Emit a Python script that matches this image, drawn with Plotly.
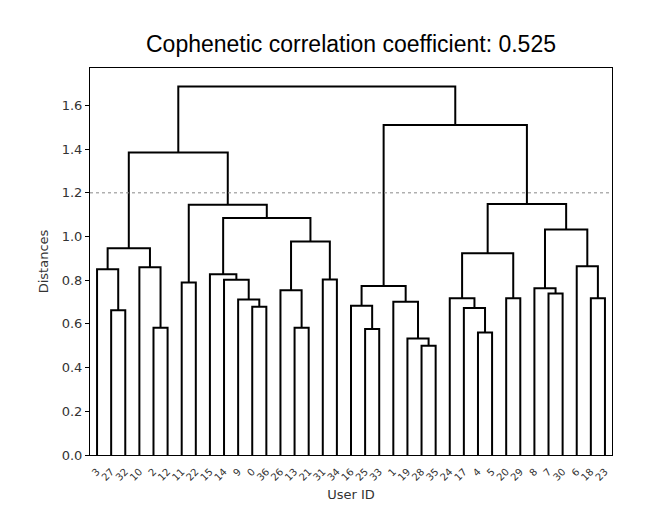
import plotly.graph_objects as go

# Leaf order (User IDs, left to right)
leaf_order = [3, 27, 32, 10, 2, 12, 11, 22, 15, 14, 9, 0, 36, 26, 13, 21, 31, 34,
              16, 25, 33, 1, 19, 28, 35, 24, 17, 4, 5, 20, 29, 8, 7, 30, 6, 18, 23]
n_leaves = len(leaf_order)

# Linkage-style merges: ids < 37 are users, ids >= 37 are merge index + 37
merge_left = [28, 19, 4, 25, 2, 13, 27, 17, 0, 16, 1, 9, 24, 20, 18, 7, 26, 8,
              46, 11, 14, 31, 15, 3, 10, 6, 49, 60, 53, 54, 59, 56, 63, 64, 55, 70]
merge_right = [35, 37, 5, 33, 12, 21, 32, 39, 36, 40, 38, 45, 44, 29, 23, 30, 42, 52,
               47, 22, 48, 34, 57, 43, 41, 51, 50, 61, 58, 62, 65, 67, 66, 68, 69, 71]
merge_height = [0.500, 0.533, 0.561, 0.577, 0.582, 0.582, 0.663, 0.673, 0.678, 0.683,
                0.702, 0.712, 0.718, 0.717, 0.718, 0.739, 0.754, 0.763, 0.773, 0.789,
                0.802, 0.803, 0.827, 0.850, 0.859, 0.864, 0.923, 0.946, 0.977, 1.032,
                1.085, 1.145, 1.149, 1.385, 1.510, 1.687]

threshold = 1.2
coph_corr = 0.525
y_ticks = [0.0, 0.2, 0.4, 0.6, 0.8, 1.0, 1.2, 1.4, 1.6]

# positions (scipy dendrogram convention: leaves at 5, 15, 25, ...)
pos = {}
hgt = {}
for i, leaf in enumerate(leaf_order):
    pos[leaf] = 5 + 10 * i
    hgt[leaf] = 0.0

xs, ys = [], []
for k, (a, b, h) in enumerate(zip(merge_left, merge_right, merge_height)):
    cid = n_leaves + k
    xa, xb = pos[a], pos[b]
    xs += [xa, xa, xb, xb, None]
    ys += [hgt[a], h, h, hgt[b], None]
    pos[cid] = (xa + xb) / 2
    hgt[cid] = h

x_max = 10 * n_leaves
y_max = max(merge_height) * 1.05

W, H = 661, 498
ML, MR, MT, MB = 82, 57, 60, 51

fig = go.Figure()
fig.add_trace(go.Scatter(x=xs, y=ys, mode="lines",
                         line=dict(color="black", width=2),
                         hoverinfo="skip", showlegend=False))
fig.add_trace(go.Scatter(x=[0, x_max], y=[threshold, threshold], mode="lines",
                         line=dict(color="#888888", width=1, dash="dot"),
                         hoverinfo="skip", showlegend=False))

fig.update_layout(
    width=W, height=H,
    margin=dict(l=ML, r=MR, t=MT, b=MB),
    paper_bgcolor="white", plot_bgcolor="white",
    title=dict(text=f"Cophenetic correlation coefficient: {coph_corr}",
               x=(ML + W - MR) / 2 / W, xanchor="center", y=1 - 36 / H, yanchor="middle",
               font=dict(family="Liberation Sans, Arial", size=23, color="black")),
    font=dict(family="DejaVu Sans", color="#333333"),
)
fig.update_xaxes(
    range=[0, x_max], tickmode="array", automargin=False,
    tickvals=[5 + 10 * i for i in range(n_leaves)],
    ticktext=[str(v) for v in leaf_order],
    tickangle=-45, tickfont=dict(size=10, color="#333333"),
    ticks="outside", ticklen=6, tickcolor="rgba(0,0,0,0)",
    showline=True, linecolor="black", linewidth=1, mirror=True,
    showgrid=False, zeroline=False,
    title=dict(text="User ID", font=dict(size=13, color="#333333"), standoff=7),
)
fig.update_yaxes(
    range=[0, y_max], tickmode="array", tickvals=y_ticks, automargin=False,
    ticktext=[f"{v:.1f}" for v in y_ticks],
    tickfont=dict(size=13, color="#333333"),
    ticks="outside", ticklen=4, tickcolor="black",
    showline=True, linecolor="black", linewidth=1, mirror=True,
    showgrid=False, zeroline=False,
    title=dict(text="Distances", font=dict(size=13, color="#333333"), standoff=10),
)

fig.write_html("out.html")
